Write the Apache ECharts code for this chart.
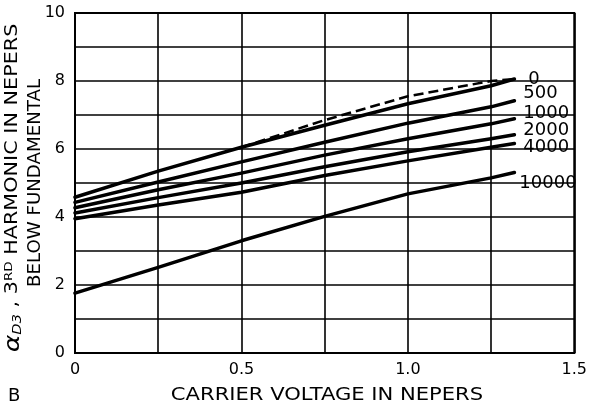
<!DOCTYPE html>
<html>
<head>
<meta charset="utf-8">
<script src="https://cdn.jsdelivr.net/npm/echarts@6/dist/echarts.min.js"></script>
<style>
  html, body { margin: 0; padding: 0; background: #fff; }
  #chart { width: 590px; height: 407px; }
</style>
</head>
<body>
<div id="chart"></div>
<script>
// Carrier voltage (nepers) at which each curve is sampled
const carrierX = [0, 0.25, 0.5, 0.75, 1.0, 1.25, 1.32];

// Third-harmonic level below fundamental (nepers), one array per parameter value
const curve0     = [4.58, 5.35, 6.05, 6.70, 7.33, 7.86, 8.06];
const curve500   = [4.43, 5.03, 5.62, 6.20, 6.76, 7.24, 7.42];
const curve1000  = [4.27, 4.80, 5.29, 5.82, 6.30, 6.74, 6.89];
const curve2000  = [4.12, 4.57, 5.00, 5.48, 5.92, 6.30, 6.42];
const curve4000  = [3.95, 4.35, 4.73, 5.22, 5.65, 6.05, 6.16];
const curve10000 = [1.76, 2.52, 3.30, 4.02, 4.68, 5.15, 5.31];

// Dashed branch splitting from the top curve
const dashX = [0.5, 0.75, 1.0, 1.25, 1.32];
const dashY = [6.05, 6.85, 7.55, 8.00, 8.06];

const curveNames = ['0', '500', '1000', '2000', '4000', '10000'];
const curveData  = [curve0, curve500, curve1000, curve2000, curve4000, curve10000];
const labelShift = [[14, 0], [9, -7], [9, -5], [9, -4], [9, 4], [5, 11]];

const xTickLabels = { '0': '0', '0.5': '0.5', '1': '1.0', '1.5': '1.5' };
const yTickLabels = [0, 2, 4, 6, 8, 10];

const FONT = 'DejaVu Sans';
const zip = (xs, ys) => xs.map((x, i) => [x, ys[i]]);

const series = curveNames.map((name, i) => ({
  name: name,
  type: 'line',
  data: zip(carrierX, curveData[i]),
  smooth: false,
  symbol: 'none',
  lineStyle: { color: '#000', width: 3.5, join: 'round', cap: 'round' },
  endLabel: {
    show: true,
    formatter: '{a}',
    distance: labelShift[i][0],
    offset: [0, labelShift[i][1]],
    color: '#000',
    fontFamily: FONT,
    fontSize: 18
  },
  z: 3
}));

series.push({
  name: 'dashed',
  type: 'line',
  data: zip(dashX, dashY),
  smooth: false,
  symbol: 'none',
  lineStyle: { color: '#000', width: 2.5, type: [10, 5] },
  z: 3
});

const chart = echarts.init(document.getElementById('chart'), null, { renderer: 'canvas' });
chart.setOption({
  animation: false,
  backgroundColor: '#fff',
  grid: {
    left: 75, right: 8, top: 13, bottom: 54,
    show: true, borderColor: '#000', borderWidth: 2, backgroundColor: 'transparent'
  },
  xAxis: {
    type: 'value',
    min: 0, max: 1.5, interval: 0.25,
    axisLine: { show: true, lineStyle: { color: '#000', width: 2 } },
    axisTick: { show: false },
    splitLine: { show: true, lineStyle: { color: '#000', width: 1.6 } },
    axisLabel: {
      margin: 9,
      color: '#000', fontFamily: FONT, fontSize: 16,
      formatter: v => xTickLabels[String(+v.toFixed(2))] || ''
    }
  },
  yAxis: {
    type: 'value',
    min: 0, max: 10, interval: 1,
    axisLine: { show: true, lineStyle: { color: '#000', width: 2 } },
    axisTick: { show: false },
    splitLine: { show: true, lineStyle: { color: '#000', width: 1.6 } },
    axisLabel: {
      margin: 10,
      color: '#000', fontFamily: FONT, fontSize: 16,
      formatter: v => yTickLabels.indexOf(v) >= 0 ? String(v) : ''
    }
  },
  graphic: [
    {
      type: 'text',
      x: 13, y: 188, rotation: Math.PI / 2, scaleX: 1.22,
      style: {
        text: '{al|α}{sub|D3}{t| , 3}{sup|RD}{t| HARMONIC IN NEPERS}',
        align: 'center', verticalAlign: 'middle',
        fill: '#000', fontFamily: FONT, fontSize: 17,
        rich: {
          al: { fontFamily: FONT, fontSize: 22, fontStyle: 'italic' },
          sub: { fontFamily: FONT, fontSize: 12, fontStyle: 'italic', padding: [10, 0, 0, 0] },
          t: { fontFamily: FONT, fontSize: 17 },
          sup: { fontFamily: FONT, fontSize: 11, padding: [0, 0, 8, 0] }
        }
      }
    },
    {
      type: 'text',
      x: 36, y: 183, rotation: Math.PI / 2, scaleX: 1.07,
      style: {
        text: 'BELOW FUNDAMENTAL',
        align: 'center', verticalAlign: 'middle',
        fill: '#000', fontFamily: FONT, fontSize: 17
      }
    },
    {
      type: 'text',
      x: 327, y: 396, scaleX: 1.24,
      style: {
        text: 'CARRIER VOLTAGE IN NEPERS',
        align: 'center', verticalAlign: 'middle',
        fill: '#000', fontFamily: FONT, fontSize: 17
      }
    },
    {
      type: 'text',
      x: 8, y: 396,
      style: {
        text: 'B',
        align: 'left', verticalAlign: 'middle',
        fill: '#000', fontFamily: FONT, fontSize: 18
      }
    }
  ],
  series: series
});
</script>
</body>
</html>
